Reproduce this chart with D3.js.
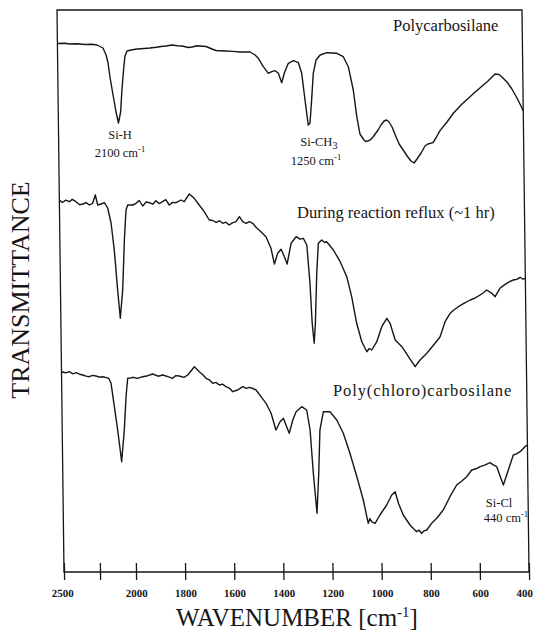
<!DOCTYPE html>
<html><head><meta charset="utf-8">
<script src="https://cdn.jsdelivr.net/npm/d3@7"></script>
<style>body{margin:0;background:#fff}svg{display:block}</style>
</head><body>
<svg id="chart" width="536" height="632"></svg>
<script>
// ---- data (wavenumber cm-1, transmittance in arbitrary stacked units) ----
const wnTicks = [2500, 2250, 2000, 1800, 1600, 1400, 1200, 1000, 800, 600, 400];
const tickLabels = ["2500", "", "2000", "1800", "1600", "1400", "1200", "1000", "800", "600", "400"];
const seriesNames = ["Polycarbosilane", "During reaction reflux (~1 hr)", "Poly(chloro)carbosilane"];

const polycarbosilane = [[2500,528.5],[2450,528.8],[2412,528],[2360,528.3],[2308,527.5],[2260,527.8],[2225,527],[2184,524],[2163,517],[2150,509],[2137,494],[2118,477],[2099,460],[2083,449],[2067,460],[2056,482],[2043,502],[2032,516],[2017,521],[1994,522],[1969,523],[1940,523.5],[1917,524],[1890,524.8],[1871,525.5],[1850,526],[1827,527],[1805,526.3],[1786,526],[1760,524.5],[1745,525],[1725,526.3],[1713,526],[1688,525.5],[1664,523],[1648,521.5],[1611,521],[1580,520.6],[1550,520],[1509,520],[1489,517],[1476,513.7],[1456,505.3],[1436,498.7],[1422,500.3],[1408,501.3],[1395,498.7],[1382,489.3],[1371,498.7],[1354,508.7],[1333,511.3],[1313,509.3],[1300,498.7],[1288,472],[1276,447],[1269,448.7],[1261,472],[1253,498.7],[1241,512],[1224,517],[1197,519.3],[1156,518.7],[1130,515.3],[1110,505.3],[1091,482],[1078,455.3],[1066,438],[1050,432],[1042,430.4],[1025,432],[1013,435],[992,442],[980,447],[967,451],[957,452],[947,450],[935,445],[919,435],[907,428],[891,422],[875,416],[860,411],[847,409],[835,413],[818,419],[802,426],[790,428],[769,429.4],[757,434],[740,441.4],[711,450],[684,459],[649,468],[599,479],[566,486],[542,491],[513,498],[497,497.5],[485,495],[465,490],[445,483],[425,474],[405,464],[400,461]];

const duringReflux = [[2500,372],[2480,369.5],[2455,371.8],[2431,370.3],[2410,372.6],[2385,370.3],[2360,367.2],[2338,368],[2315,369.4],[2292,367],[2269,368.7],[2250,377],[2234,367],[2211,368],[2188,369.3],[2165,364],[2143,349],[2123,322],[2103,282],[2087,253.7],[2068,282],[2052,332],[2038,362],[2026,367],[1995,367],[1981,368.7],[1968,371.5],[1954,366],[1940,370],[1927,369.3],[1913,367.8],[1900,371.3],[1887,368.4],[1873,370.3],[1860,372.4],[1846,367],[1832,369.6],[1818,369.3],[1798,372],[1785,370.3],[1764,378],[1744,373.7],[1724,367],[1704,360.3],[1684,352],[1670,351.5],[1656,349.7],[1642,351.2],[1629,348.7],[1616,349.8],[1603,347],[1590,349.2],[1575,350.3],[1561,355.3],[1548,350.3],[1534,348.7],[1521,350.3],[1507,348.7],[1494,344.7],[1474,340.3],[1454,335.3],[1434,323.7],[1421,308],[1407,318.7],[1393,322.7],[1380,315.3],[1369,308],[1352,328.7],[1331,335.3],[1315,332.8],[1302,333.7],[1288,327],[1277,288.7],[1270,248.7],[1263,228.7],[1257,248.7],[1249,298.7],[1241,328.7],[1227,332],[1215,329.5],[1207,330.3],[1180,322],[1153,310.3],[1127,295.3],[1108,275.3],[1089,248.7],[1069,230.3],[1049,220.3],[1039,223.5],[1029,222],[1008,230.3],[987,245.3],[966,253.7],[953,248.7],[933,232],[906,225.3],[880,215.3],[853,205.3],[833,212],[805,218.7],[771,228.7],[750,235.3],[729,250.3],[708,258.7],[690,262.5],[674,265.3],[650,268.8],[625,272],[605,274.2],[585,277],[570,279.5],[558,282],[537,278.7],[524,275.3],[504,283.7],[490,286.4],[476,288.7],[462,290.6],[449,292],[435,292.6],[421,294.7],[410,292.8],[400,293.7]];

const polyChloro = [[2500,200.3],[2472,199.2],[2446,200.3],[2420,198.2],[2399,199.3],[2375,197.8],[2353,197],[2330,195.9],[2308,195.3],[2285,196.6],[2260,196],[2238,194.8],[2215,195.3],[2195,194.6],[2173,193.7],[2157,188.7],[2136,165.3],[2115,142],[2090,110.3],[2069,142],[2054,175.3],[2041,193.7],[2020,193.9],[2006,194.7],[1985,193.6],[1963,195.3],[1942,196.3],[1922,198],[1900,195.8],[1881,197],[1860,195.4],[1841,193.7],[1828,196.4],[1814,196],[1795,194.6],[1779,197],[1752,205.3],[1732,200.3],[1718,197.2],[1705,193.7],[1690,191.8],[1678,188.7],[1665,189.6],[1651,187],[1638,187.9],[1624,185.3],[1610,183.7],[1597,180.3],[1577,182],[1556,185.3],[1542,183.6],[1529,184.7],[1515,183.5],[1502,182],[1482,175.3],[1462,168.7],[1442,158.7],[1423,142],[1406,150.3],[1392,153.7],[1382,147],[1369,138.7],[1354,152],[1340,160.3],[1317,165.3],[1297,162],[1284,142],[1273,98.7],[1260,58.7],[1251,98.7],[1244,142],[1229,160.3],[1202,160.3],[1175,152],[1149,138.7],[1123,118.7],[1096,95.3],[1071,72],[1052,48.7],[1045,53.5],[1038,50.3],[1024,48.7],[1004,57],[976,67],[955,77],[941,80.3],[928,68.7],[909,57],[882,47],[868,43.2],[855,40.3],[845,41.8],[835,38.7],[825,41.2],[814,42],[794,48.7],[773,53.7],[746,62],[718,75.3],[690,87],[670,90.8],[649,95.3],[628,102],[610,103.2],[594,105.3],[575,106.8],[553,109.3],[540,107.1],[526,105.3],[500,87],[479,102],[458,117],[445,118.2],[430,120.3],[420,122.8],[410,125.3],[400,127]];

const seriesData = [polycarbosilane, duringReflux, polyChloro];

// ---- layout ----
const svg = d3.select("#chart");
const serif = "'Liberation Serif','Times New Roman',serif";
const ink = "#161616";

const x = d3.scaleLinear().domain([2500, 2000, 400]).range([64, 136, 529]);
const y = d3.scaleLinear().domain([0, 562]).range([572, 10]);

// slight scan tilt of the original figure
const plot = svg.append("g")
  .attr("transform", "translate(0,572) skewX(0.714) translate(0,-572)");

plot.append("rect")
  .attr("x", x(2500)).attr("y", y(562))
  .attr("width", x(400) - x(2500)).attr("height", y(0) - y(562))
  .attr("fill", "none").attr("stroke", ink).attr("stroke-width", 1.3);

const axis = d3.axisBottom(x)
  .tickValues(wnTicks)
  .tickFormat(d => tickLabels[wnTicks.indexOf(d)])
  .tickSize(8).tickSizeOuter(0);

const ax = plot.append("g").attr("transform", `translate(0,${y(0)})`).call(axis);
ax.select(".domain").remove();
ax.selectAll(".tick line").attr("y1", -9).attr("y2", 8)
  .attr("stroke", ink).attr("stroke-width", 1.3);
ax.selectAll(".tick text").attr("y", 17)
  .attr("font-family", serif).attr("font-size", 11).attr("font-weight", "bold")
  .attr("fill", ink)
  .attr("dx", d => d === 400 ? -5 : (d === 2500 ? -2 : 0));

const line = d3.line()
  .x(d => x(d[0]))
  .y(d => y(d[1]));

plot.selectAll("path.spectrum")
  .data(seriesData)
  .join("path")
  .attr("class", "spectrum")
  .attr("d", d => line(d))
  .attr("fill", "none")
  .attr("stroke", ink)
  .attr("stroke-width", 1.4)
  .attr("stroke-linejoin", "round");

// ---- texts ----
const txt = (xp, yp, s, size, anchor) => svg.append("text")
  .attr("x", xp).attr("y", yp).attr("font-family", serif)
  .attr("font-size", size).attr("text-anchor", anchor || "start")
  .attr("fill", ink).text(s);

txt(393, 31, seriesNames[0], 16.5);
txt(297, 218, seriesNames[1], 16.5);
txt(333, 396, seriesNames[2], 16.5).attr("letter-spacing", 0.9);

function withSup(xp, yp, main, sup, size, anchor) {
  const t = svg.append("text").attr("x", xp).attr("y", yp)
    .attr("font-family", serif).attr("font-size", size)
    .attr("text-anchor", anchor || "middle").attr("fill", ink);
  t.append("tspan").text(main);
  t.append("tspan").attr("dy", -size * 0.4).attr("font-size", size * 0.7).text(sup);
  return t;
}
function withSub(xp, yp, main, sub, size, anchor) {
  const t = svg.append("text").attr("x", xp).attr("y", yp)
    .attr("font-family", serif).attr("font-size", size)
    .attr("text-anchor", anchor || "middle").attr("fill", ink);
  t.append("tspan").text(main);
  t.append("tspan").attr("dy", size * 0.25).attr("font-size", size * 0.85).text(sub);
  return t;
}

txt(120, 139, "Si-H", 12.5, "middle");
withSup(120, 157, "2100 cm", "-1", 12.5);
withSub(319, 146, "Si-CH", "3", 12.5);
withSup(316, 165, "1250 cm", "-1", 12.5);
txt(499, 507, "Si-Cl", 12.5, "middle");
withSup(506, 522, "440 cm", "-1", 12.5);

// axis titles
const xt = svg.append("text").attr("x", 297).attr("y", 626)
  .attr("font-family", serif).attr("font-size", 25)
  .attr("text-anchor", "middle").attr("fill", ink);
xt.append("tspan").text("WAVENUMBER [cm");
xt.append("tspan").attr("dy", -9).attr("font-size", 15).text("-1");
xt.append("tspan").attr("dy", 9).text("]");

svg.append("text")
  .attr("transform", "translate(29,290) rotate(-90)")
  .attr("font-family", serif).attr("font-size", 26)
  .attr("text-anchor", "middle").attr("fill", ink)
  .text("TRANSMITTANCE");
</script>
</body></html>
